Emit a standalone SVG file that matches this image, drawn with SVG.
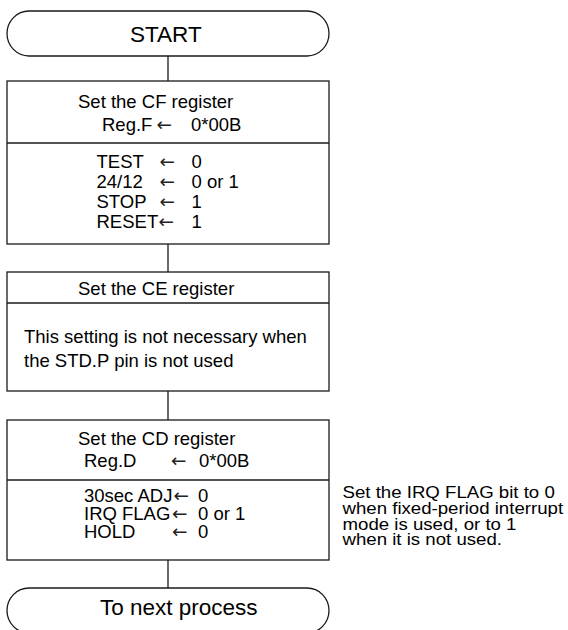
<svg xmlns="http://www.w3.org/2000/svg" width="568" height="630" viewBox="0 0 568 630">
<style>
.s{fill:none;stroke:#1a1a1a;stroke-width:1.3}
.t{font-family:"Liberation Sans",Arial,sans-serif;font-size:18.5px;fill:#000}
.a{font-family:"DejaVu Sans",sans-serif;font-size:18.5px;fill:#222}
.big{font-family:"Liberation Sans",Arial,sans-serif;font-size:22.5px;fill:#000}
.n{font-family:"Liberation Sans",Arial,sans-serif;font-size:16px;fill:#000}
</style>
<rect width="568" height="630" fill="#fff"/>
<g id="connectors">
<line class="s" x1="168" y1="56" x2="168" y2="81"/>
<line class="s" x1="168" y1="244" x2="168" y2="272"/>
<line class="s" x1="168" y1="391" x2="168" y2="420"/>
<line class="s" x1="168" y1="560" x2="168" y2="588"/>
</g>
<g id="start">
<rect class="s" x="7" y="11" width="322" height="45" rx="22" ry="22.5"/>
<text class="big" x="130" y="42">START</text>
</g>
<g id="cf">
<rect class="s" x="7" y="81" width="322" height="163"/>
<line class="s" x1="7" y1="143" x2="329" y2="143"/>
<text class="t" x="78" y="108">Set the CF register</text>
<text class="t" x="102" y="131">Reg.F</text>
<text class="a" x="156.5" y="131">←</text>
<text class="t" x="191" y="131">0*00B</text>
<text class="t" x="96.5" y="168">TEST</text>
<text class="a" x="159.5" y="168">←</text>
<text class="t" x="191.5" y="168">0</text>
<text class="t" x="96.5" y="188">24/12</text>
<text class="a" x="159.5" y="188">←</text>
<text class="t" x="191.5" y="188">0 or 1</text>
<text class="t" x="96.5" y="208">STOP</text>
<text class="a" x="159.5" y="208">←</text>
<text class="t" x="191.5" y="208">1</text>
<text class="t" x="96.5" y="228">RESET</text>
<text class="a" x="158.5" y="228">←</text>
<text class="t" x="191.5" y="228">1</text>
</g>
<g id="ce">
<rect class="s" x="7" y="272" width="322" height="119"/>
<line class="s" x1="7" y1="303" x2="329" y2="303"/>
<text class="t" x="78" y="295">Set the CE register</text>
<text class="t" x="24" y="343">This setting is not necessary when</text>
<text class="t" x="24" y="367">the STD.P pin is not used</text>
</g>
<g id="cd">
<rect class="s" x="7" y="420" width="322" height="140"/>
<line class="s" x1="7" y1="480" x2="329" y2="480"/>
<text class="t" x="78" y="445">Set the CD register</text>
<text class="t" x="84" y="467">Reg.D</text>
<text class="a" x="171" y="467">←</text>
<text class="t" x="199" y="467">0*00B</text>
<text class="t" x="84" y="502">30sec ADJ</text>
<text class="a" x="173.5" y="502">←</text>
<text class="t" x="198" y="502">0</text>
<text class="t" x="84" y="520">IRQ FLAG</text>
<text class="a" x="172" y="520">←</text>
<text class="t" x="198" y="520">0 or 1</text>
<text class="t" x="84" y="538">HOLD</text>
<text class="a" x="172" y="538">←</text>
<text class="t" x="198" y="538">0</text>
</g>
<g id="note" transform="translate(342.5 0) scale(1.165 1)">
<text class="n" x="0" y="498">Set the IRQ FLAG bit to 0</text>
<text class="n" x="0" y="514">when fixed-period interrupt</text>
<text class="n" x="0" y="530">mode is used, or to 1</text>
<text class="n" x="0" y="545">when it is not used.</text>
</g>
<g id="end">
<rect class="s" x="7" y="588" width="322" height="45" rx="22" ry="22.5"/>
<text class="big" x="100" y="615">To next process</text>
</g>
</svg>
